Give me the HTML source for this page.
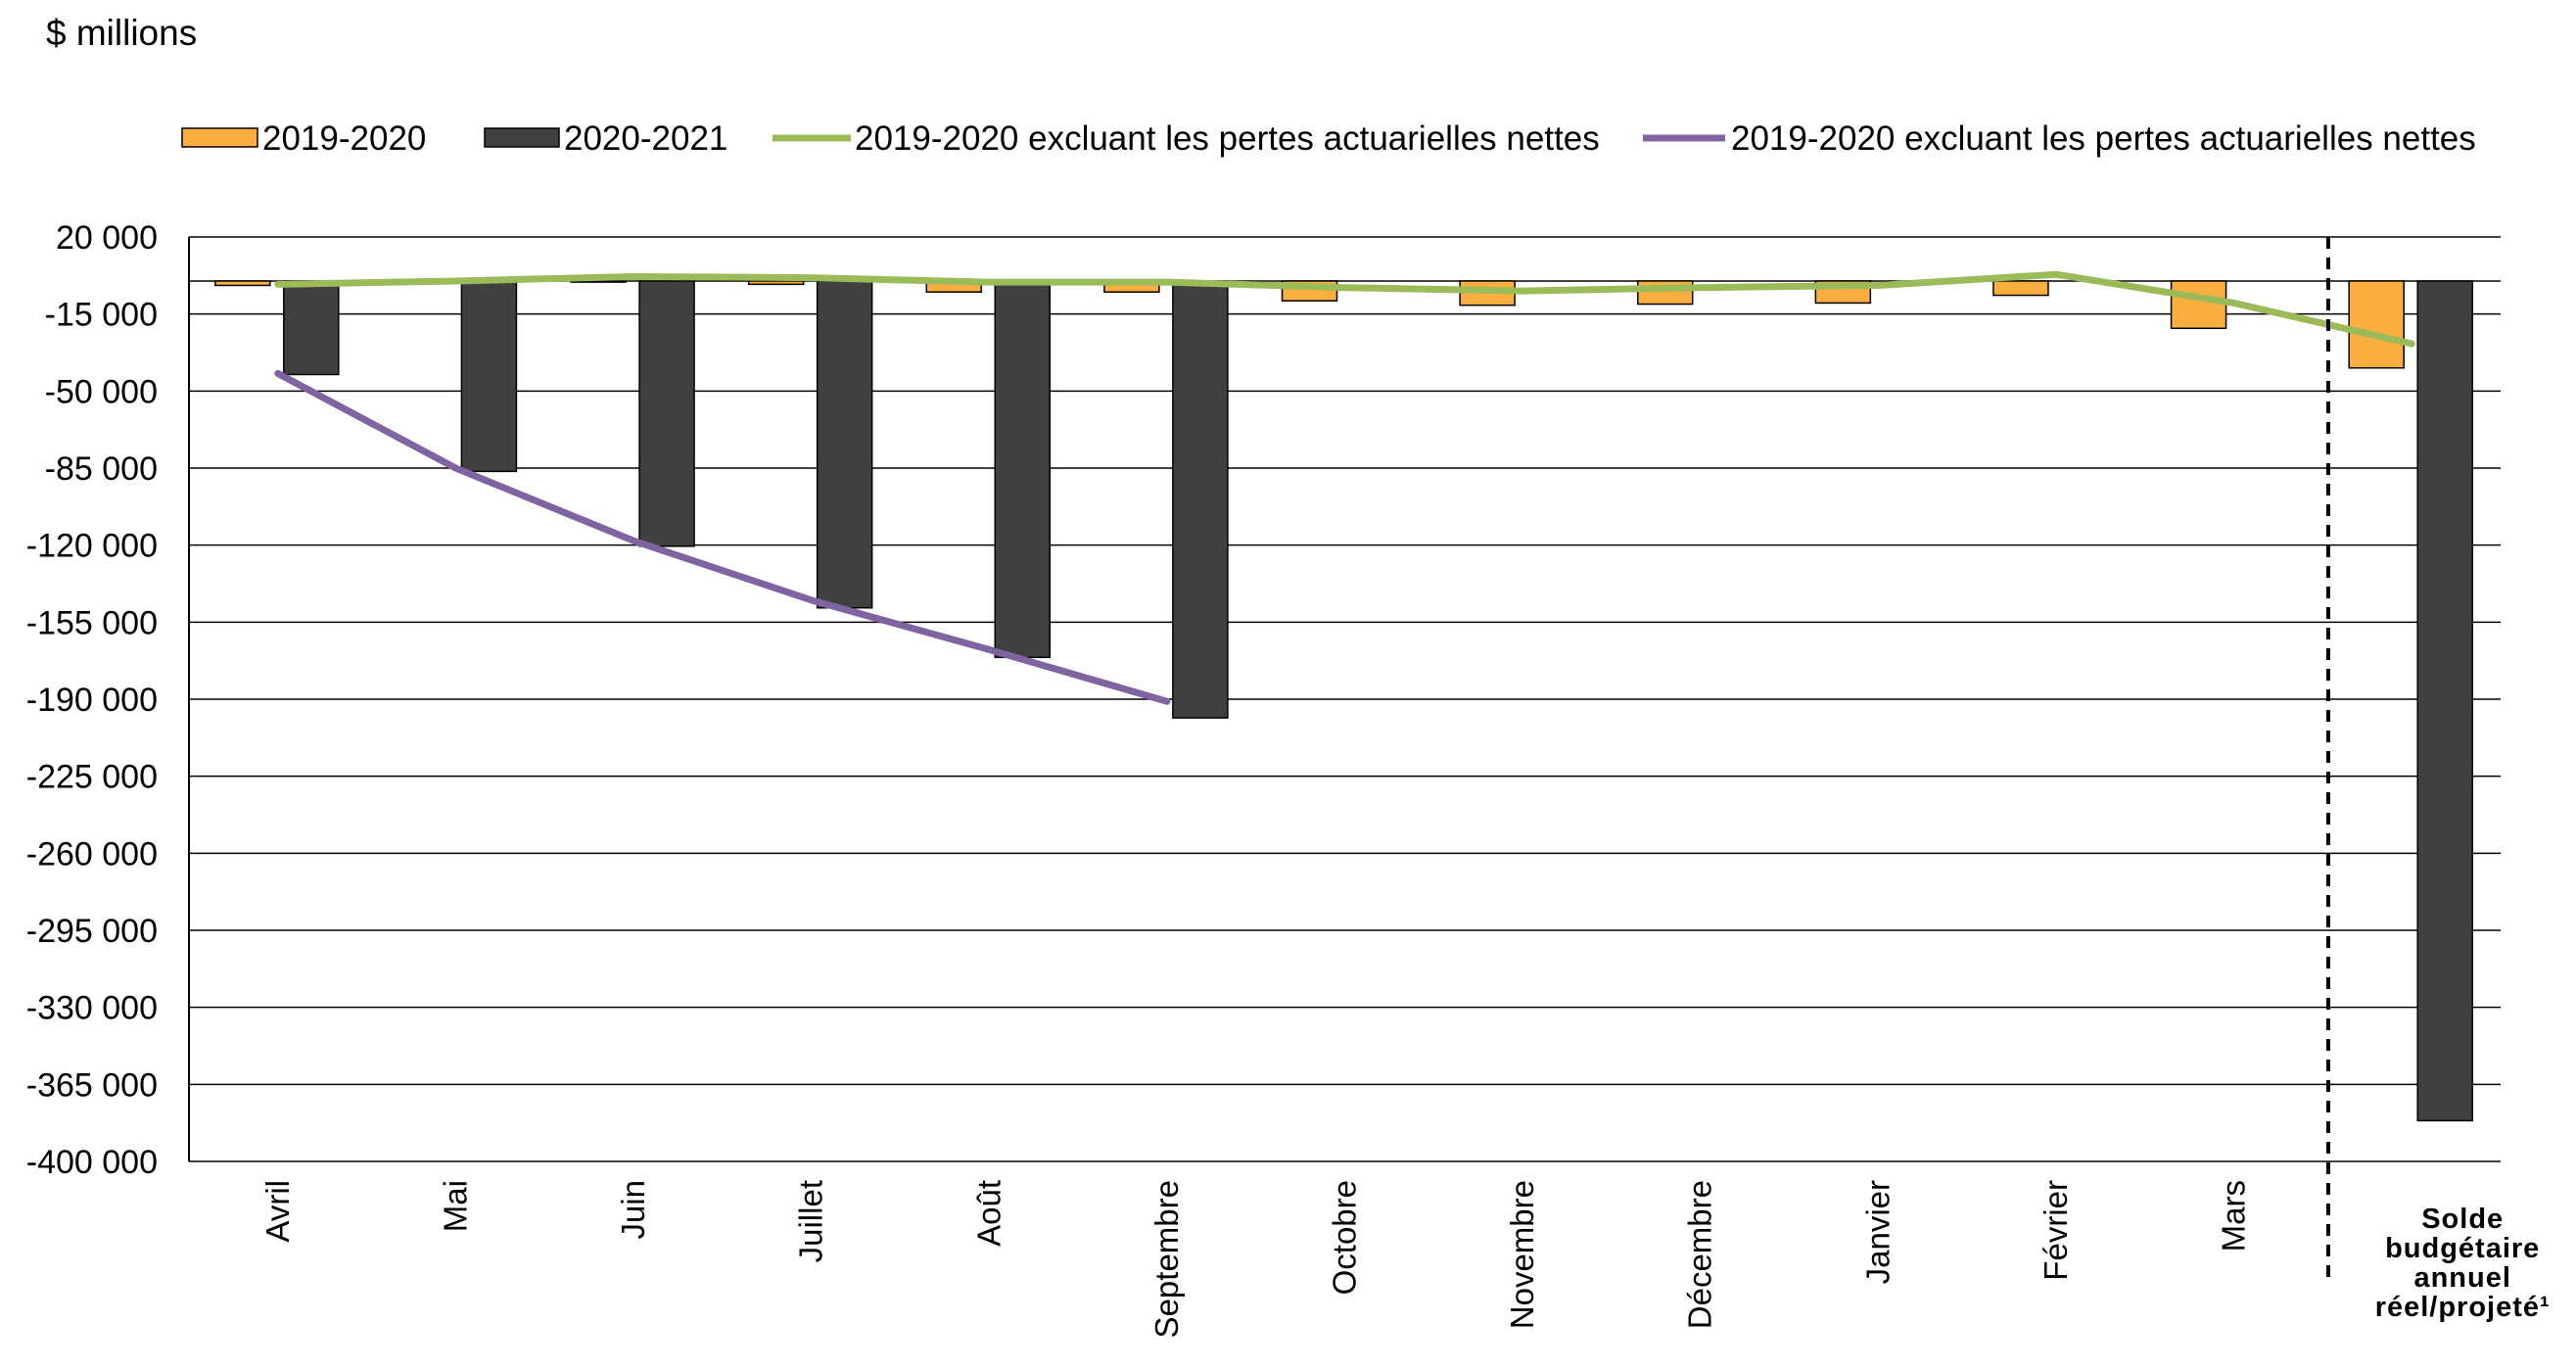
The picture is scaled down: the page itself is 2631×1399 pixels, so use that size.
<!DOCTYPE html>
<html><head><meta charset="utf-8"><style>
html,body{margin:0;padding:0;background:#fff;}
svg{display:block;font-family:"Liberation Sans",Arial,sans-serif;}
</style></head><body>
<svg id="chart" width="2631" height="1399" viewBox="0 0 2631 1399" xmlns="http://www.w3.org/2000/svg">
<text x="47" y="46" font-size="37" fill="#000">$ millions</text>
<g>
<rect x="186" y="131" width="77" height="19" fill="#FBAE40" stroke="#000" stroke-width="1.5"/>
<text x="268" y="153" font-size="35">2019-2020</text>
<rect x="495" y="131" width="76" height="19" fill="#404040" stroke="#000" stroke-width="1.5"/>
<text x="576" y="153" font-size="35">2020-2021</text>
<line x1="789" y1="141" x2="869" y2="141" stroke="#9BBB59" stroke-width="7"/>
<text x="873" y="153" font-size="35">2019-2020 excluant les pertes actuarielles nettes</text>
<line x1="1678" y1="141" x2="1762" y2="141" stroke="#8064A2" stroke-width="7"/>
<text x="1768" y="153" font-size="35">2019-2020 excluant les pertes actuarielles nettes</text>
</g>
<g id="grid"></g><g id="bars"></g><g id="lines"></g><g id="axes"></g>
</svg>
<script>
const categories = ["Avril","Mai","Juin","Juillet","Août","Septembre","Octobre","Novembre","Décembre","Janvier","Février","Mars","Solde budgétaire annuel réel/projeté¹"];
const series2019 = [-2000,-500,-500,-1500,-5000,-5000,-9000,-11000,-10500,-10000,-6500,-21500,-39500];
const series2020 = [-42500,-86500,-120500,-148500,-171000,-198500,null,null,null,null,null,null,-381500];
const greenLine = [-1500,0,2000,1500,-500,-500,-3000,-4500,-3000,-2000,3000,-10000,-28500];
const purpleLine = [-42000,-85000,-118000,-145000,-167500,-191000];
const yTicks = [20000,-15000,-50000,-85000,-120000,-155000,-190000,-225000,-260000,-295000,-330000,-365000,-400000];
const yTickLabels = ["20 000","-15 000","-50 000","-85 000","-120 000","-155 000","-190 000","-225 000","-260 000","-295 000","-330 000","-365 000","-400 000"];

const NS="http://www.w3.org/2000/svg";
const L=193,R=2554,T=242,B=1186,yMax=20000,yMin=-400000;
const cw=(R-L)/categories.length;
function y(v){return T+(yMax-v)/(yMax-yMin)*(B-T);}
function xc(i){return L+cw*(i+0.5);}
function mk(tag,attrs,parent){const e=document.createElementNS(NS,tag);for(const k in attrs)e.setAttribute(k,attrs[k]);parent.appendChild(e);return e;}
const grid=document.getElementById('grid'),bars=document.getElementById('bars'),lines=document.getElementById('lines'),axes=document.getElementById('axes');

yTicks.forEach((t,i)=>{
  const g=mk('line',{x1:L,x2:R,y1:y(t),y2:y(t),stroke:'#000','stroke-width':1.5},grid);
  
  
  const tx=mk('text',{x:161,y:y(t)+12,'font-size':34,'text-anchor':'end'},axes);
  tx.textContent=yTickLabels[i];
  
  
});
const z=mk('line',{x1:L,x2:R,y1:y(0),y2:y(0),stroke:'#000','stroke-width':1.5},grid);



categories.forEach((c,i)=>{
  const cx=xc(i);
  const v1=series2019[i];
  const r1=mk('rect',{x:cx-64,width:56,y:Math.min(y(0),y(v1)),height:Math.abs(y(v1)-y(0)),fill:'#FBAE40',stroke:'#000','stroke-width':1.5},bars);
  
  
  const v2=series2020[i];
  if(v2!==null){
    const r2=mk('rect',{x:cx+6,width:56,y:Math.min(y(0),y(v2)),height:Math.abs(y(v2)-y(0)),fill:'#404040',stroke:'#000','stroke-width':1.5},bars);
    
    
  }
  if(i<12){
    const tx=mk('text',{transform:`translate(${cx+11},1205) rotate(-90)`,'font-size':33,'text-anchor':'end'},axes);
    tx.textContent=c;
    
    
  } else {
    const parts=["Solde","budgétaire","annuel","réel/projeté¹"];
    parts.forEach((p,j)=>{
      const tx=mk('text',{x:cx+52,y:1254+j*30,'font-size':29,'text-anchor':'middle','font-weight':'bold','letter-spacing':'1'},axes);
      tx.textContent=p;
      
      
    });
  }
});

const gp=greenLine.map((v,i)=>`${xc(i)},${y(v)}`).join(' ');
const gl=mk('polyline',{points:gp,fill:'none',stroke:'#9BBB59','stroke-width':7,'stroke-linecap':'round','stroke-linejoin':'round'},lines);


const pp=purpleLine.map((v,i)=>`${xc(i)},${y(v)}`).join(' ');
const pl=mk('polyline',{points:pp,fill:'none',stroke:'#8064A2','stroke-width':7,'stroke-linecap':'round','stroke-linejoin':'round'},lines);



const ya=mk('line',{x1:L,x2:L,y1:T,y2:B,stroke:'#000','stroke-width':2},axes);


const dl=mk('line',{x1:2378,x2:2378,y1:T,y2:1309,stroke:'#000','stroke-width':4,'stroke-dasharray':'12 9'},axes);


</script>
</body></html>
